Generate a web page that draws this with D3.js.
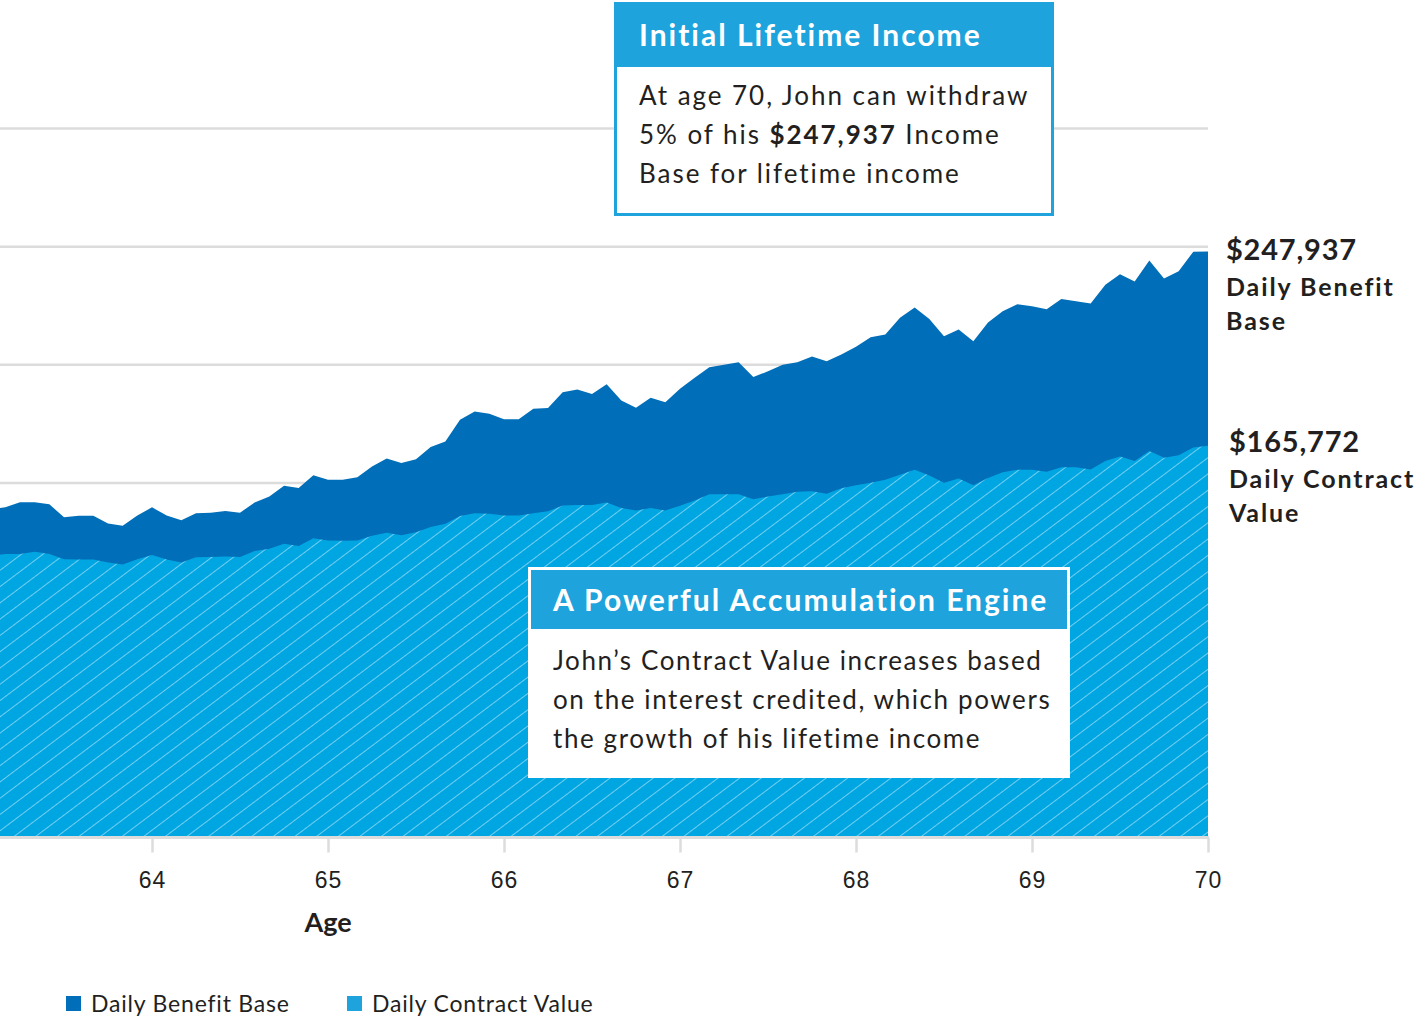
<!DOCTYPE html>
<html>
<head>
<meta charset="utf-8">
<script src="https://cdn.jsdelivr.net/npm/d3@7"></script>
<style>
  body { margin: 0; background: #fff; }
  svg { display: block; font-family: Lato, "Open Sans", sans-serif; }
  .tickLabel { font-size: 23px; fill: #231f20; letter-spacing: 1px; }
  .axisLabel { font-size: 27px; font-weight: bold; fill: #231f20; }
  .legendLabel { font-size: 23px; fill: #231f20; letter-spacing: 0.8px; }
  .endValue { font-size: 29px; font-weight: bold; fill: #231f20; letter-spacing: 0.8px; }
  .endName { font-size: 25px; font-weight: bold; fill: #231f20; letter-spacing: 1.9px; }
  .noteTitle { font-size: 30px; font-weight: bold; fill: #fff; letter-spacing: 2px; }
  .noteBody { font-size: 26px; fill: #231f20; letter-spacing: 1.95px; }
  .noteBody.tight { letter-spacing: 1.6px; }
</style>
</head>
<body>
<div id="chart"></div>
<script>
// monthly values, from age 63 + 1 month to age 70
const benefitBase = [
    138800, 139700, 141900, 141900, 141000, 135500, 136100, 136100, 132900, 131900, 136300,
    139700, 136300, 134200, 137200, 137400, 138200, 137400, 141800, 144300, 148800, 147900, 153300,
    151400, 151400, 152400, 157000, 160400, 158500, 160000, 165200, 167600, 176800, 180300, 179300,
    177000, 177000, 181400, 181700, 188400, 189600, 187700, 191800, 184900, 181800, 186100, 184200,
    189900, 194500, 199000, 200000, 201100, 194800, 197300, 200000, 201100, 203500, 201500, 204400,
    207700, 211700, 212800, 219900, 224300, 219400, 212100, 215000, 210000, 217900, 222700, 225600,
    224800, 223500, 227900, 226900, 225900, 233900, 238300, 235300, 244100, 236500, 239600, 247900, 247937
];
const contractValue = [
    119000, 120000, 120000, 120900, 120000, 117700, 117600, 117600, 116400, 115500, 117700,
    119500, 117600, 116400, 118600, 118700, 118900, 118700, 121200, 122200, 124300, 123300, 126600,
    125700, 125600, 125700, 127700, 129000, 127900, 129200, 131400, 132800, 136000, 137200, 137000,
    136200, 136200, 137200, 138000, 140500, 140700, 140700, 141800, 139400, 138400, 139400, 138400,
    140400, 142600, 145200, 145200, 145200, 143100, 144300, 145200, 146300, 146500, 145500, 147800,
    149000, 150100, 151400, 153500, 155600, 153200, 150100, 151900, 149000, 152100, 154600, 155600,
    155600, 154800, 156700, 156700, 155700, 159300, 161200, 159300, 163500, 160700, 161700, 165000, 165772
];
const ages = benefitBase.map((d, i) => 63 + (i + 1) / 12);
const ageTicks = [64, 65, 66, 67, 68, 69, 70];
const gridValues = [50000, 100000, 150000, 200000, 250000, 300000];
const seriesNames = ["Daily Benefit Base", "Daily Contract Value"];

const width = 1419;
const height = 1020;
const darkBlue = "#006eb8";
const lightBlue = "#00a6e2";
const boxBlue = "#1ea3dc";

const svg = d3.select("#chart")
    .append("svg")
    .attr("width", width)
    .attr("height", height);

const xScale = d3.scaleLinear()
    .domain([64, 70])
    .range([152, 1208]);

const yScale = d3.scaleLinear()
    .domain([0, 300000])
    .range([837.5, 128.5]);

// hatch for the contract value area
const defs = svg.append("defs");
const hatch = defs.append("pattern")
    .attr("id", "hatch")
    .attr("patternUnits", "userSpaceOnUse")
    .attr("width", 13)
    .attr("height", 13)
    .attr("patternTransform", "rotate(-37)");
hatch.append("rect")
    .attr("width", 13)
    .attr("height", 13)
    .attr("fill", lightBlue);
hatch.append("line")
    .attr("x1", 0).attr("x2", 13)
    .attr("y1", 0.5).attr("y2", 0.5)
    .attr("stroke", "rgba(255,255,255,0.45)")
    .attr("stroke-width", 1);

// gridlines
svg.append("g")
    .selectAll("line")
    .data(gridValues)
    .enter()
    .append("line")
        .attr("x1", 0)
        .attr("x2", xScale(70))
        .attr("y1", d => yScale(d))
        .attr("y2", d => yScale(d))
        .attr("stroke", "#dcdcdc")
        .attr("stroke-width", 2.5);

const rows = ages.map((a, i) => ({ age: a, base: benefitBase[i], cv: contractValue[i] }));

const baseArea = d3.area()
    .x(d => xScale(d.age))
    .y0(yScale(0))
    .y1(d => yScale(d.base));

const cvArea = d3.area()
    .x(d => xScale(d.age))
    .y0(yScale(0))
    .y1(d => yScale(d.cv));

svg.append("path")
    .datum(rows)
    .attr("d", baseArea)
    .attr("fill", darkBlue);

svg.append("path")
    .datum(rows)
    .attr("d", cvArea)
    .attr("fill", "url(#hatch)");

// x axis
const xAxis = svg.append("g")
    .attr("transform", `translate(0,${yScale(0)})`)
    .call(d3.axisBottom(xScale).tickValues(ageTicks).tickSize(15).tickFormat(d3.format("d")));
xAxis.select(".domain").remove();
xAxis.selectAll(".tick line")
    .attr("stroke", "#dcdcdc")
    .attr("stroke-width", 2.5);
xAxis.selectAll(".tick text")
    .attr("class", "tickLabel")
    .attr("y", 43)
    .attr("dy", "0.32em");
xAxis.append("line")
    .attr("x1", 0)
    .attr("x2", xScale(70) + 1)
    .attr("stroke", "#dcdcdc")
    .attr("stroke-width", 3);

svg.append("text")
    .attr("class", "axisLabel")
    .attr("x", xScale(65))
    .attr("y", 932)
    .attr("text-anchor", "middle")
    .text("Age");

// end-of-series labels
const last = rows[rows.length - 1];
const endLabels = [
    { x: 1226, y: yScale(last.base) + 8, lines: [d3.format("$,")(last.base), "Daily Benefit", "Base"] },
    { x: 1229, y: yScale(last.cv) + 6, lines: [d3.format("$,")(last.cv), "Daily Contract", "Value"] }
];
endLabels.forEach(lab => {
    lab.lines.forEach((t, i) => {
        svg.append("text")
            .attr("class", i === 0 ? "endValue" : "endName")
            .attr("x", lab.x)
            .attr("y", lab.y + (i === 0 ? 0 : 36 + (i - 1) * 34))
            .text(t);
    });
});

// annotation boxes
function noteBox(x, y, w, h, headH, framed, title, bodyLines) {
    const g = svg.append("g");
    if (framed) {
        g.append("rect")
            .attr("x", x).attr("y", y).attr("width", w).attr("height", h)
            .attr("fill", "#fff");
        g.append("rect")
            .attr("x", x + 3).attr("y", y + 3).attr("width", w - 6).attr("height", headH)
            .attr("fill", boxBlue);
    } else {
        g.append("rect")
            .attr("x", x + 1.5).attr("y", y + 1.5).attr("width", w - 3).attr("height", h - 3)
            .attr("fill", "#fff")
            .attr("stroke", boxBlue)
            .attr("stroke-width", 3);
        g.append("rect")
            .attr("x", x).attr("y", y).attr("width", w).attr("height", headH)
            .attr("fill", boxBlue);
    }
    g.append("text")
        .attr("class", "noteTitle")
        .attr("x", x + 25)
        .attr("y", y + headH - (framed ? 15 : 21))
        .text(title);
    const bodyTop = y + headH + (framed ? 44 : 38);
    bodyLines.forEach((parts, i) => {
        const t = g.append("text")
            .attr("class", framed ? "noteBody tight" : "noteBody")
            .attr("x", x + 25)
            .attr("y", bodyTop + i * 39);
        parts.forEach(p => {
            t.append("tspan")
                .attr("font-weight", p.bold ? "bold" : null)
                .text(p.t);
        });
    });
}

noteBox(614, 2, 440, 214, 65, false, "Initial Lifetime Income", [
    [{ t: "At age 70, John can withdraw" }],
    [{ t: "5% of his " }, { t: d3.format("$,")(last.base), bold: true }, { t: " Income" }],
    [{ t: "Base for lifetime income" }]
]);

noteBox(528, 567, 542, 211, 59, true, "A Powerful Accumulation Engine", [
    [{ t: "John\u2019s Contract Value increases based" }],
    [{ t: "on the interest credited, which powers" }],
    [{ t: "the growth of his lifetime income" }]
]);

// legend
const legend = svg.append("g")
    .selectAll("g")
    .data(seriesNames)
    .enter()
    .append("g")
        .attr("transform", (d, i) => `translate(${i === 0 ? 66 : 347},996)`);
legend.append("rect")
    .attr("width", 15)
    .attr("height", 15)
    .attr("fill", (d, i) => i === 0 ? darkBlue : boxBlue);
legend.append("text")
    .attr("class", "legendLabel")
    .attr("x", 25)
    .attr("y", 16)
    .text(d => d);
</script>
</body>
</html>
